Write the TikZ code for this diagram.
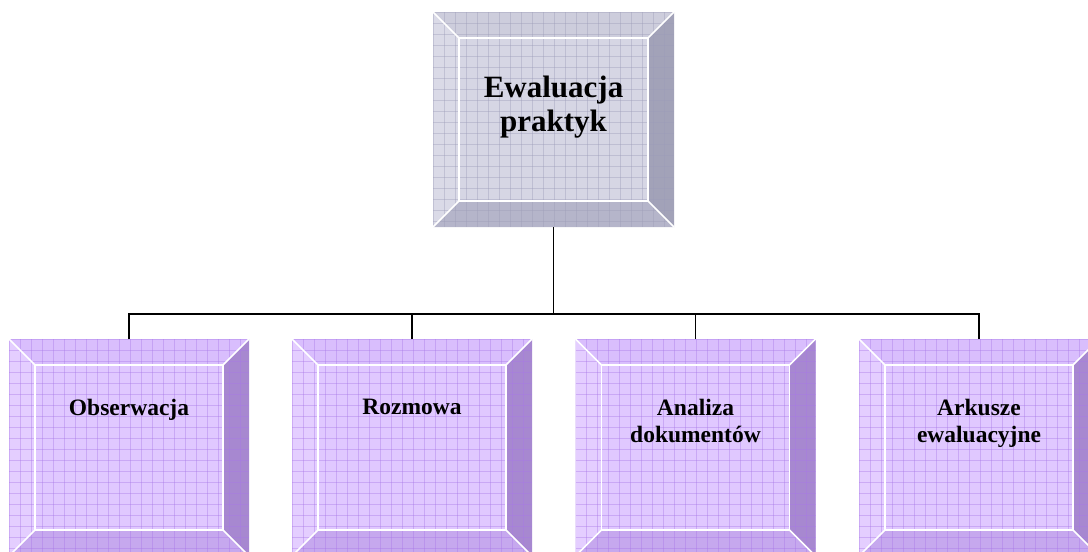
\documentclass[tikz,border=0pt]{standalone}
\usepackage{fontspec}
\setmainfont{Liberation Serif}
\usetikzlibrary{calc}

\definecolor{evface}{HTML}{D6D6E4}
\definecolor{evtop}{HTML}{CDCDDC}
\definecolor{evleft}{HTML}{DADAE7}
\definecolor{evright}{HTML}{A2A2B8}
\definecolor{evbottom}{HTML}{B5B5CA}
\definecolor{evgridc}{HTML}{9C9CB8}
\definecolor{puface}{HTML}{E0C8FF}
\definecolor{putop}{HTML}{D9BEFD}
\definecolor{puleft}{HTML}{E4CEFF}
\definecolor{puright}{HTML}{A788D0}
\definecolor{pubottom}{HTML}{C6A8EE}
\definecolor{pugridc}{HTML}{A878E8}

\tikzset{
  evgrid/.style={evgridc, line width=0.8pt, opacity=0.4},
  pugrid/.style={pugridc, line width=0.8pt, opacity=0.4},
  boxnode/.style={inner sep=0pt, outer sep=0pt},
  toptext/.style={font=\fontsize{31}{34}\selectfont\bfseries, align=center, anchor=north, inner sep=0pt},
  lowtext/.style={font=\fontsize{23.5}{27}\selectfont\bfseries, align=center, anchor=north, inner sep=0pt},
  conn/.style={line width=1.6pt}
}

% bevelled box drawn on a named node: #1 node, #2 colour prefix
\newcommand{\bevelbox}[2]{%
  \fill[#2face] (#1.north west) rectangle (#1.south east);
  \fill[#2top] (#1.north west) -- (#1.north east) -- ($(#1.north east)+(-26,26)$) -- ($(#1.north west)+(26,26)$) -- cycle;
  \fill[#2left] (#1.north west) -- ($(#1.north west)+(26,26)$) -- ($(#1.south west)+(26,-26)$) -- (#1.south west) -- cycle;
  \fill[#2right] (#1.north east) -- (#1.south east) -- ($(#1.south east)+(-26,-26)$) -- ($(#1.north east)+(-26,26)$) -- cycle;
  \fill[#2bottom] (#1.south west) -- (#1.south east) -- ($(#1.south east)+(-26,-26)$) -- ($(#1.south west)+(26,-26)$) -- cycle;
  \begin{scope}
    \clip (#1.north west) rectangle (#1.south east);
    \foreach \k in {0,...,22}{
      \draw[#2grid] ($(#1.north west)+(\k*11,0)$) -- ($(#1.south west)+(\k*11,0)$);
      \draw[#2grid] ($(#1.north west)+(0,\k*11)$) -- ($(#1.north east)+(0,\k*11)$);
    }
  \end{scope}
  \draw[white, line width=1.5pt] ($(#1.north west)+(26,26)$) rectangle ($(#1.south east)+(-26,-26)$);
  \draw[white, line width=1.5pt] (#1.north west) -- ++(26,26) (#1.north east) -- ++(-26,26)
    (#1.south west) -- ++(26,-26) (#1.south east) -- ++(-26,-26);
}

\begin{document}
\begin{tikzpicture}[x=1pt, y=-1pt]
  \useasboundingbox (0,0) rectangle (1088,552);
  \clip (0,0) rectangle (1088,552);

  % top box
  \node[boxnode, minimum width=241pt, minimum height=215pt] (ewal) at (553.5,119.5) {};
  \bevelbox{ewal}{ev}
  \node[toptext] (ewal-t) at (553.5,76) {Ewaluacja\\praktyk};

  % lower boxes
  \foreach \n/\x/\t in {obs/129/Obserwacja, rozm/412/Rozmowa, anal/695.5/{Analiza\\dokumentów}, ark/979/{Arkusze\\ewaluacyjne}}{
    \node[boxnode, minimum width=240pt, minimum height=217pt] (\n) at (\x,447.5) {};
    \bevelbox{\n}{pu}
    \node[lowtext] (\n-t) at (\x,399) {\t};
  }

  % connectors
  \coordinate (bus) at (553,314);
  \draw[conn] (ewal.south) -- (ewal.south |- bus);
  \draw[conn] (obs.north) -- (obs.north |- bus) -- (ark.north |- bus) -- (ark.north);
  \draw[conn] (rozm.north) -- (rozm.north |- bus);
  \draw[conn] (anal.north) -- (anal.north |- bus);
\end{tikzpicture}
\end{document}
